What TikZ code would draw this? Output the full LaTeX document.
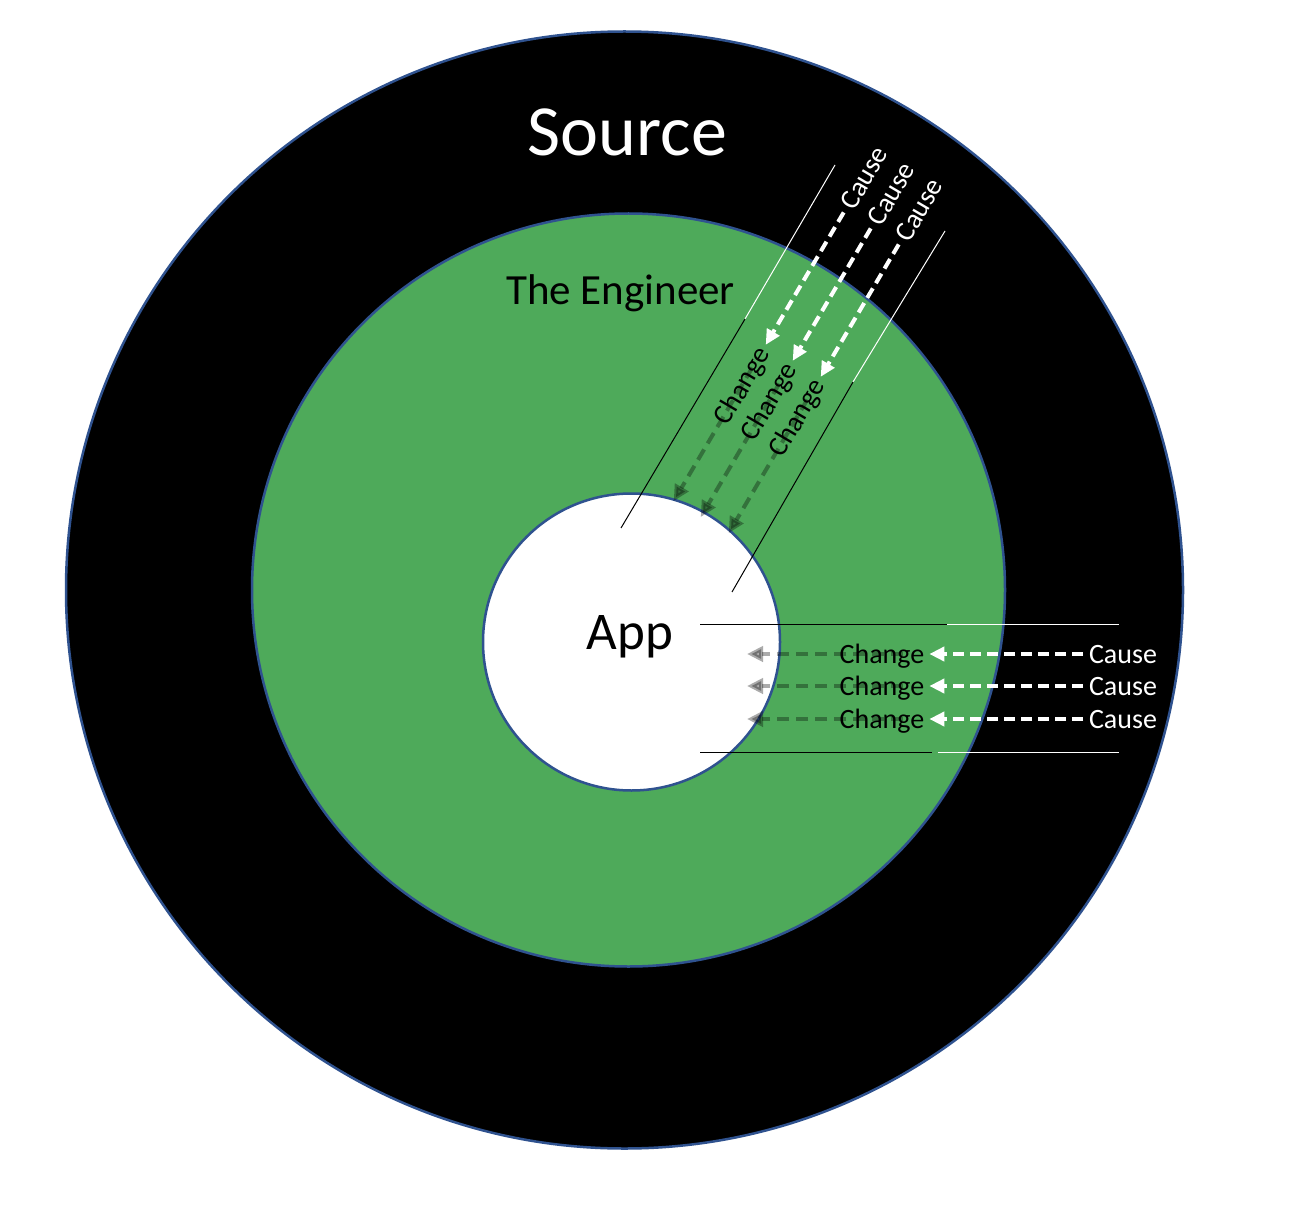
\documentclass[tikz,border=0pt]{standalone}
\usepackage{fontspec}
\setmainfont{Carlito}
\usetikzlibrary{arrows.meta,calc}
\definecolor{ringgreen}{RGB}{78,170,90}
\definecolor{ringblue}{RGB}{47,82,143}
\tikzset{
  ring/.style={draw=ringblue, line width=2.5pt},
  lbl/.style={inner sep=0pt, outer sep=0pt, text height=18pt, text depth=0pt, font=\fontsize{28}{30}\selectfont},
  causelbl/.style={lbl, text=white, outer sep=6pt},
  changelbl/.style={lbl, text=black, outer sep=5pt},
  whitearrow/.style={draw=white, line width=4pt, dash pattern=on 11pt off 6pt, -{Triangle[length=15pt, width=14pt]}},
  darkarrow/.style={draw=black, opacity=0.33, line width=4pt, dash pattern=on 12pt off 7pt, -{Triangle[length=16pt, width=15pt]}},
  thinblack/.style={draw=black, line width=1pt},
  thinwhite/.style={draw=white, line width=1pt},
}
\begin{document}
\begin{tikzpicture}[x=1pt, y=-1pt]
\useasboundingbox[fill=white] (0,0) rectangle (1306,1222);
% rings
\draw[ring, fill=black] (624.5,590) circle[radius=558.5];
\draw[ring, fill=ringgreen] (628.5,590) circle[radius=376.5];
\draw[ring, fill=white] (631.5,642) circle[radius=148.5];
% titles
\node[lbl, text=white, text height=46.4pt, font=\fontsize{72}{80}\selectfont] (src) at (627.5,132.5) {Source};
\node[lbl, text=black, text height=27.7pt, font=\fontsize{43}{48}\selectfont] (eng) at (620.5,291) {The Engineer};
\node[lbl, text=black, text height=34.1pt, font=\fontsize{53}{58}\selectfont] (app) at (630,632.5) {App};
% thin guide lines
\coordinate (dl1) at (835,165); \coordinate (dl2) at (745,319); \coordinate (dl3) at (621,528);
\coordinate (dr1) at (945,231); \coordinate (dr2) at (853,382); \coordinate (dr3) at (732,592);
\coordinate (ht1) at (700,624); \coordinate (ht2) at (947,624); \coordinate (ht3) at (1119,624);
\coordinate (hb1) at (700,752); \coordinate (hb2) at (932,752); \coordinate (hb2w) at (938,752); \coordinate (hb3) at (1119,752);
\draw[thinwhite] (dl1) -- (dl2);
\draw[thinblack] (dl2) -- (dl3);
\draw[thinwhite] (dr1) -- (dr2);
\draw[thinblack] (dr2) -- (dr3);
\draw[thinblack] (ht1) -- (ht2);
\draw[thinwhite] (ht2) -- (ht3);
\draw[thinblack] (hb1) -- (hb2);
\draw[thinwhite] (hb2w) -- (hb3);
% horizontal rows
\foreach \i/\y in {1/654,2/686,3/719}{
  \coordinate (hx\i) at (747,\y);
  \draw[darkarrow] (903,\y) -- (hx\i);
  \node[causelbl] (hc\i) at (1123,\y) {Cause};
  \node[changelbl] (hg\i) at (882,\y) {Change};
  \draw[whitearrow] (hc\i) -- (hg\i);
}
% diagonal rows
\foreach \i/\cx/\cy in {1/864/178,2/891/194,3/919/210}{
  \node[causelbl, rotate=59.5] (dc\i) at (\cx,\cy) {Cause};
  \coordinate (dt\i) at ($(dc\i)+(-190.3,323.1)$);
  \draw[darkarrow] ($(dc\i)+(-111.7,189.6)$) -- (dt\i);
  \node[changelbl, rotate=59.5] (dg\i) at ($(dc\i)+(-122.3,207.6)$) {Change};
  \draw[whitearrow] (dc\i) -- (dg\i);
}
\end{tikzpicture}
\end{document}
